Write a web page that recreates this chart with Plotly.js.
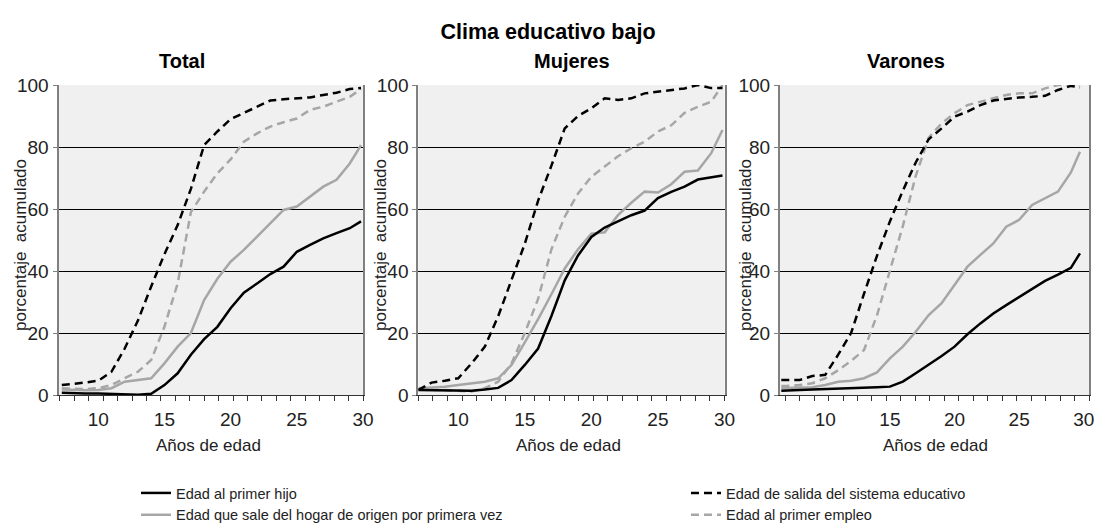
<!DOCTYPE html>
<html>
<head>
<meta charset="utf-8">
<script src="https://cdn.plot.ly/plotly-3.0.1.min.js"></script>
<style>html,body{margin:0;padding:0;background:#fff;}#chart{width:1100px;height:525px;}</style>
</head>
<body>
<div id="chart"></div>
<script>
// ---- Data ----
const panelNames = ["Total", "Mujeres", "Varones"];
const seriesNames = [
  "Edad al primer hijo",
  "Edad de salida del sistema educativo",
  "Edad que sale del hogar de origen por primera vez",
  "Edad al primer empleo"
];
const xTickVals = [10, 15, 20, 25, 30];
const yTickVals = [0, 20, 40, 60, 80, 100];

// Total
const agesTotal = [7.25, 8, 9, 10, 11, 12, 13, 14, 15, 16, 17, 18, 19, 20, 21, 22, 23, 24, 25, 26, 27, 28, 29, 29.85];
const totalHijo   = [0.75, 0.6, 0.5, 0.5, 0.4, 0.3, 0.1, 0.4, 3.2, 7, 13, 18, 22, 28, 33, 36, 39, 41.4, 46.2, 48.4, 50.5, 52.2, 53.8, 56];
const totalSalida = [3.2, 3.5, 4, 4.6, 7.5, 15, 24, 35, 45.4, 54.8, 66.5, 80.6, 85, 89, 91, 93, 95, 95.4, 95.7, 96, 96.8, 97.5, 98.7, 99];
const totalHogar  = [1.8, 1.6, 1.5, 1.6, 2.2, 4.3, 4.8, 5.4, 10.2, 15.6, 20, 30.6, 37.5, 43, 46.8, 51, 55.4, 59.7, 60.8, 64, 67.2, 69.4, 74.7, 80.6];
const totalEmpleo = [2.2, 2, 1.9, 2.2, 3.2, 5.4, 7.5, 11.3, 22, 36, 59, 65.6, 71.5, 76, 81.7, 84.4, 86.6, 88, 89.2, 92, 93, 94.6, 96.2, 98.7];

// Mujeres
const agesMujeres = [7, 8, 9, 10, 11, 12, 13, 14, 15, 16, 17, 18, 19, 20, 21, 22, 23, 24, 25, 26, 27, 28, 29, 29.85];
const mujHijo   = [1.6, 1.6, 1.5, 1.4, 1.4, 1.8, 2.3, 4.8, 9.7, 15, 25.5, 37, 45, 51, 54, 56, 58, 59.5, 63.5, 65.5, 67.2, 69.5, 70.3, 70.8];
const mujSalida = [1.6, 4, 4.6, 5.4, 10.2, 15.6, 25.4, 36.9, 48.8, 62.7, 74, 86, 90, 92.5, 95.7, 95.2, 95.7, 97.3, 97.8, 98.2, 98.9, 100, 99, 99];
const mujHogar  = [2.2, 2.4, 2.7, 3.2, 3.8, 4.3, 5.4, 9.7, 17, 24.5, 32.5, 40.8, 47, 52, 52.5, 58, 62, 65.6, 65.3, 68, 72, 72.4, 78, 85.5];
const mujEmpleo = [1.8, 1.8, 1.6, 1.4, 1.1, 2.2, 4.3, 10.2, 20, 31, 47, 57.5, 65, 70.4, 73.7, 77, 79.6, 81.7, 85, 87, 91, 93, 94.6, 100];

// Varones
const agesVarones = [6.6, 7, 8, 9, 10, 11, 12, 13, 14, 15, 16, 17, 18, 19, 20, 21, 22, 23, 24, 25, 26, 27, 28, 29, 29.7];
const varHijo   = [1.4, 1.4, 1.6, 1.8, 1.9, 2.2, 2.3, 2.4, 2.5, 2.7, 4.3, 7, 9.7, 12.6, 15.6, 19.6, 23.1, 26.3, 29, 31.6, 34.4, 36.8, 38.8, 41, 45.7];
const varSalida = [4.8, 4.8, 4.8, 6.1, 6.5, 13, 20, 32.7, 44.9, 56, 65.9, 75, 82.5, 86, 89.8, 91.4, 93.5, 95, 95.6, 96, 96.2, 96.5, 98.4, 99.7, 99.2];
const varHogar  = [2.2, 2.2, 2.4, 2.5, 3.2, 4.3, 4.6, 5.4, 7.3, 11.8, 15.6, 20.4, 25.8, 29.6, 35.5, 41.4, 45.2, 48.9, 54.3, 56.5, 61.3, 63.4, 65.6, 71.8, 78.5];
const varEmpleo = [2.9, 2.9, 3.2, 3.8, 5.4, 8, 11, 14.5, 25.7, 40.3, 54.5, 70.7, 83, 87.6, 90.9, 93.5, 94.6, 95.7, 96.8, 97.3, 97.3, 98.9, 100, 100, 99.7];

// ---- Styles ----
const W = 1100, H = 525;
const styles = [
  {color: "#000000", dash: "solid", width: 2.5, legend: "legend"},     // hijo
  {color: "#000000", dash: "8px,5px", width: 2.5, legend: "legend2"},  // salida
  {color: "#a6a6a6", dash: "solid", width: 2.5, legend: "legend"},     // hogar
  {color: "#a6a6a6", dash: "8px,5px", width: 2.5, legend: "legend2"}   // empleo
];
const drawOrder = [3, 2, 1, 0];
const panels = [
  {ages: agesTotal, s: [totalHijo, totalSalida, totalHogar, totalEmpleo], xa: "x", ya: "y"},
  {ages: agesMujeres, s: [mujHijo, mujSalida, mujHogar, mujEmpleo], xa: "x2", ya: "y2"},
  {ages: agesVarones, s: [varHijo, varSalida, varHogar, varEmpleo], xa: "x3", ya: "y3"}
];

const traces = [];
panels.forEach((p, pi) => {
  drawOrder.forEach(si => {
    traces.push({
      type: "scatter", mode: "lines",
      x: p.ages, y: p.s[si],
      xaxis: p.xa, yaxis: p.ya,
      name: seriesNames[si],
      legend: styles[si].legend,
      legendgroup: "g" + si,
      legendrank: si + 1,
      showlegend: pi === 0,
      line: {color: styles[si].color, dash: styles[si].dash, width: styles[si].width, shape: "linear"},
      hoverinfo: "skip"
    });
  });
});

const FONT = "Liberation Sans, Arial, sans-serif";
const yDom = [1 - 395 / H, 1 - 85 / H];

function xAxis(dom, range, dtick, anchor) {
  return {
    domain: [dom[0] / W, dom[1] / W], range: range, anchor: anchor,
    tickmode: "array", tickvals: xTickVals,
    ticks: "outside", ticklen: 7, tickcolor: "rgba(0,0,0,0)",
    minor: {tickmode: "linear", tick0: range[1], dtick: dtick, ticks: "outside", ticklen: 5, tickcolor: "#333", tickwidth: 1, showgrid: false},
    showgrid: false, zeroline: false,
    showline: true, linecolor: "#333", linewidth: 1.2, mirror: false,
    tickfont: {family: FONT, size: 19, color: "#222"},
    fixedrange: true
  };
}
function yAxis(anchor) {
  return {
    domain: yDom, range: [0, 100], anchor: anchor,
    tickmode: "array", tickvals: yTickVals,
    ticks: "outside", ticklen: 4, tickcolor: "#808080",
    showgrid: true, gridcolor: "#000000", gridwidth: 1,
    zeroline: false,
    showline: true, linecolor: "#808080", linewidth: 2, mirror: true,
    tickfont: {family: FONT, size: 19, color: "#222"},
    fixedrange: true
  };
}

const annotations = [];
const subX = [182, 572, 906];
const yTitleX = [20, 380, 745];
const xTitleX = [208, 569, 935];
panelNames.forEach((n, i) => {
  annotations.push({text: "<b>" + n + "</b>", xref: "paper", yref: "paper", x: subX[i] / W, y: 1 - 61 / H,
    xanchor: "center", yanchor: "middle", showarrow: false, font: {family: FONT, size: 20, color: "#000"}});
  annotations.push({text: "porcentaje  acumulado", xref: "paper", yref: "paper", x: yTitleX[i] / W, y: 1 - 245 / H,
    xanchor: "center", yanchor: "middle", textangle: -90, showarrow: false, font: {family: FONT, size: 17, color: "#222"}});
  annotations.push({text: "Años de edad", xref: "paper", yref: "paper", x: xTitleX[i] / W, y: 1 - 445 / H,
    xanchor: "center", yanchor: "middle", showarrow: false, font: {family: FONT, size: 17, color: "#222"}});
});

const legendBase = {
  orientation: "v", xanchor: "left", yanchor: "top", y: 1 - 477 / H,
  traceorder: "normal", tracegroupgap: 0, itemwidth: 30,
  font: {family: FONT, size: 14.5, color: "#222"}, bgcolor: "rgba(0,0,0,0)"
};

const layout = {
  width: W, height: H,
  margin: {l: 0, r: 0, t: 0, b: 0, autoexpand: false},
  paper_bgcolor: "#ffffff",
  plot_bgcolor: "#f0f0f0",
  title: {text: "<b>Clima educativo bajo</b>", x: 548 / W, xanchor: "center", y: 1 - 31 / H, yanchor: "middle",
    font: {family: FONT, size: 21.5, color: "#000"}},
  xaxis: xAxis([58.5, 363], [7, 30], 1.09, "y"),
  xaxis2: xAxis([418.3, 724.5], [7, 30], 1.095, "y2"),
  xaxis3: xAxis([780, 1089], [6.5, 30.4], 1.119, "y3"),
  yaxis: yAxis("x"),
  yaxis2: yAxis("x2"),
  yaxis3: yAxis("x3"),
  showlegend: true,
  legend: Object.assign({}, legendBase, {x: 136 / W}),
  legend2: Object.assign({}, legendBase, {x: 686 / W}),
  annotations: annotations
};

Plotly.newPlot("chart", traces, layout, {displayModeBar: false, staticPlot: true});
</script>
</body>
</html>
